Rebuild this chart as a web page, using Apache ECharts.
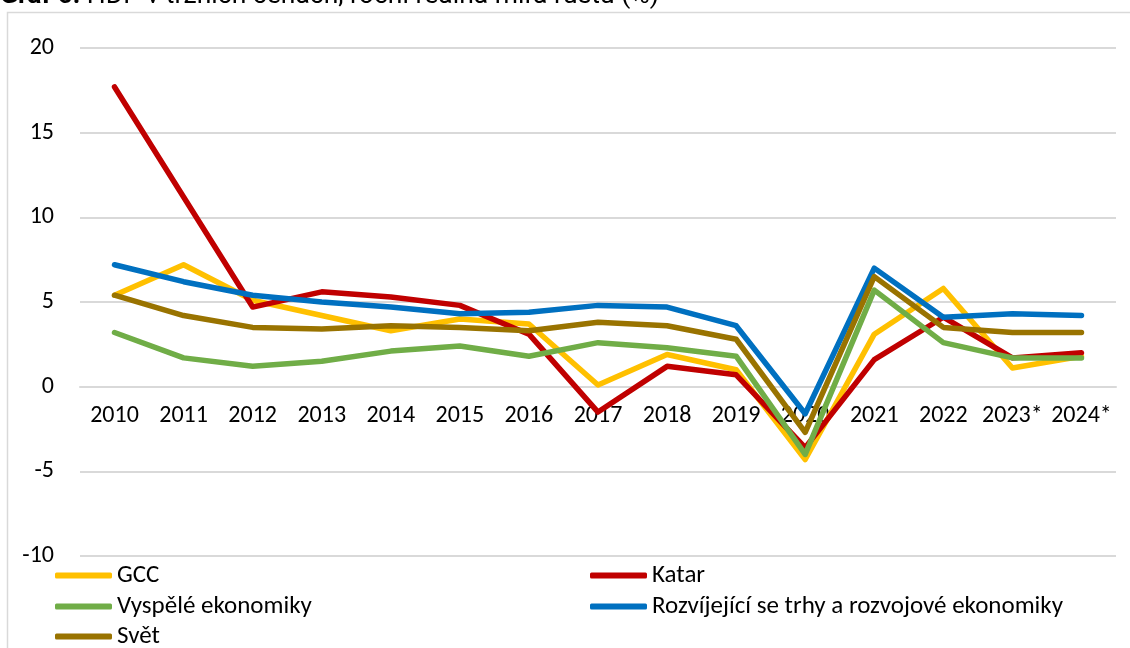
<!DOCTYPE html>
<html>
<head>
<meta charset="utf-8">
<script src="https://cdn.jsdelivr.net/npm/echarts@6/dist/echarts.min.js"></script>
<style>
  html, body { margin: 0; padding: 0; background: #fff; }
  #chart { width: 1130px; height: 648px; }
</style>
</head>
<body>
<div id="chart"></div>
<script>
const years = ['2010', '2011', '2012', '2013', '2014', '2015', '2016', '2017', '2018', '2019', '2020', '2021', '2022', '2023*', '2024*'];
const gcc = [5.4, 7.2, 5.1, 4.2, 3.3, 4.0, 3.7, 0.1, 1.9, 1.0, -4.3, 3.1, 5.8, 1.1, 1.8];
const katar = [17.7, 11.2, 4.7, 5.6, 5.3, 4.8, 3.1, -1.5, 1.2, 0.7, -3.6, 1.6, 4.1, 1.7, 2.0];
const vyspele = [3.2, 1.7, 1.2, 1.5, 2.1, 2.4, 1.8, 2.6, 2.3, 1.8, -4.0, 5.7, 2.6, 1.7, 1.7];
const rozvijejici = [7.2, 6.2, 5.4, 5.0, 4.7, 4.3, 4.4, 4.8, 4.7, 3.6, -1.6, 7.0, 4.1, 4.3, 4.2];
const svet = [5.4, 4.2, 3.5, 3.4, 3.6, 3.5, 3.3, 3.8, 3.6, 2.8, -2.7, 6.5, 3.5, 3.2, 3.2];

const font = 'Carlito, Calibri, "Liberation Sans", sans-serif';
const titleFont = 'Roboto, "Liberation Sans", Arial, sans-serif';

const chart = echarts.init(document.getElementById('chart'));

function line(name, data, color) {
  return {
    name: name,
    type: 'line',
    data: data,
    symbol: 'none',
    color: color,
    lineStyle: { color: color, width: 5.5, cap: 'round', join: 'round' },
    animation: false
  };
}

// one legend per entry so the two columns sit where the reference puts them
function legendItem(name, left, top) {
  return {
    left: left, top: top, padding: 0,
    itemWidth: 57, itemHeight: 6,
    icon: 'roundRect',
    textStyle: { color: '#000', fontSize: 25, fontFamily: font, lineHeight: 24 },
    data: [name]
  };
}

chart.setOption({
  title: {
    text: '{b|Graf 6:} HDP v tržních cenách, roční reálná míra růstu (%)',
    left: 0,
    top: -17,
    padding: 0,
    textStyle: {
      fontSize: 26.5, fontWeight: 'normal', color: '#000', fontFamily: titleFont,
      rich: { b: { fontSize: 26.5, fontWeight: 'bold', color: '#000', fontFamily: titleFont } }
    }
  },
  graphic: [{
    type: 'rect',
    shape: { x: 7.5, y: 12.5, width: 1140, height: 660 },
    style: { fill: 'none', stroke: '#d9d9d9', lineWidth: 1.5 },
    silent: true,
    z: -1
  }],
  grid: { left: 80, right: 14, top: 48, bottom: 92 },
  legend: [
    legendItem('GCC', 55, 563),
    legendItem('Vyspělé ekonomiky', 55, 594),
    legendItem('Svět', 55, 624),
    legendItem('Katar', 590, 563),
    legendItem('Rozvíjející se trhy a rozvojové ekonomiky', 590, 594)
  ],
  xAxis: {
    type: 'category',
    data: years,
    boundaryGap: true,
    offset: -169.3,
    axisLine: { show: true, onZero: false, lineStyle: { color: '#d9d9d9', width: 2 } },
    axisTick: { show: false },
    axisLabel: { color: '#000', fontSize: 24, fontFamily: font, margin: 17, interval: 0 }
  },
  yAxis: {
    type: 'value',
    min: -10,
    max: 20,
    interval: 5,
    axisLine: { show: false },
    axisTick: { show: false },
    axisLabel: { color: '#000', fontSize: 24, fontFamily: font, margin: 26 },
    splitLine: { lineStyle: { color: '#d9d9d9', width: 2 } }
  },
  series: [
    line('GCC', gcc, '#FFC000'),
    line('Katar', katar, '#C00000'),
    line('Vyspělé ekonomiky', vyspele, '#70AD47'),
    line('Rozvíjející se trhy a rozvojové ekonomiky', rozvijejici, '#0070C0'),
    line('Svět', svet, '#997300')
  ]
});
</script>
</body>
</html>
